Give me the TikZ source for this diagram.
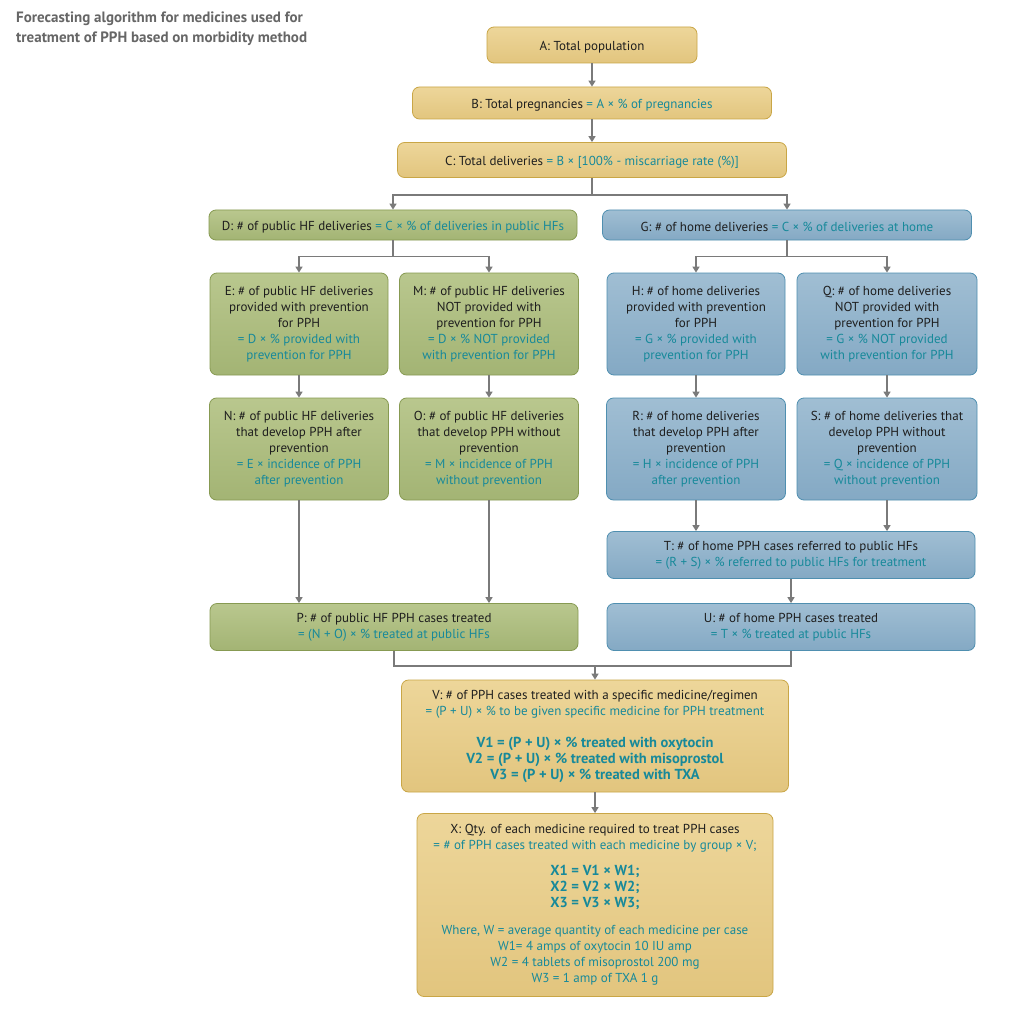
\documentclass[tikz,border=0pt]{standalone}
\usepackage{fontspec}
\setmainfont{PT Sans}
\usetikzlibrary{arrows.meta,calc}
\definecolor{tanF}{HTML}{E2C57E}
\definecolor{tanT}{HTML}{EDD69A}
\definecolor{tanD}{HTML}{C9A646}
\definecolor{grnF}{HTML}{A3B474}
\definecolor{grnT}{HTML}{B9C78E}
\definecolor{grnD}{HTML}{879A52}
\definecolor{bluF}{HTML}{84A9C4}
\definecolor{bluT}{HTML}{A0BED3}
\definecolor{bluD}{HTML}{4F8FB0}
\definecolor{teal}{HTML}{17899A}
\definecolor{txt}{HTML}{1E1E1E}
\definecolor{arr}{HTML}{7A7A7A}
\newcommand{\eq}[1]{\textcolor{teal}{#1}}
\newcommand{\beq}[1]{\textcolor{teal}{\fontsize{14.5}{16}\selectfont\bfseries #1}}
\tikzset{
  box/.style={rounded corners=7pt, line width=0.8pt, align=center, inner sep=2pt,
    font=\fontsize{13}{16}\selectfont, text=txt, anchor=center,
    execute at begin node={\rule{0pt}{13.5pt}}},
  tall/.style={execute at begin node={\rule{0pt}{19pt}}},
  tanbox/.style={box, draw=tanD, top color=tanT, bottom color=tanF},
  grnbox/.style={box, draw=grnD, top color=grnT, bottom color=grnF},
  blubox/.style={box, draw=bluD, top color=bluT, bottom color=bluF},
  conn/.style={draw=arr, line width=1.6pt},
  arrow/.style={conn, -{Triangle[width=7pt,length=6pt]}},
}
\begin{document}
\begin{tikzpicture}[x=1pt,y=-1pt]
\useasboundingbox (0,0) rectangle (1024,1024);
\fill[white] (0,0) rectangle (1024,1024);
\node[anchor=north west, align=left, text=black!60, font=\fontsize{15}{20}\selectfont\bfseries, inner sep=0pt] (title) at (16,12)
  {Forecasting algorithm for medicines used for\\treatment of PPH based on morbidity method};

\node[tanbox, minimum width=210pt, minimum height=36pt] (A) at (592,45) {A: Total population};
\node[tanbox, minimum width=359pt, minimum height=32pt] (B) at (592,103) {B: Total pregnancies \eq{= A × \% of pregnancies}};
\node[tanbox, minimum width=389pt, minimum height=35pt] (C) at (592,160) {C: Total deliveries \eq{= B × [100\% - miscarriage rate (\%)]}};
\node[grnbox, minimum width=368pt, minimum height=30pt] (D) at (393,225) {D: \# of public HF deliveries \eq{= C × \% of deliveries in public HFs}};
\node[blubox, minimum width=369pt, minimum height=30pt] (G) at (787,225) {G: \# of home deliveries \eq{= C × \% of deliveries at home}};

\node[grnbox, tall, minimum width=178pt, minimum height=102pt] (E) at (299,324) {E: \# of public HF deliveries\\provided with prevention\\for PPH\\\eq{= D × \% provided with}\\\eq{prevention for PPH}};
\node[grnbox, tall, minimum width=179pt, minimum height=102pt] (M) at (489,324) {M: \# of public HF deliveries\\NOT provided with\\prevention for PPH\\\eq{= D × \% NOT provided}\\\eq{with prevention for PPH}};
\node[blubox, tall, minimum width=178pt, minimum height=102pt] (H) at (696,324) {H: \# of home deliveries\\provided with prevention\\for PPH\\\eq{= G × \% provided with}\\\eq{prevention for PPH}};
\node[blubox, tall, minimum width=180pt, minimum height=102pt] (Q) at (887,324) {Q: \# of home deliveries\\NOT provided with\\prevention for PPH\\\eq{= G × \% NOT provided}\\\eq{with prevention for PPH}};

\node[grnbox, tall, minimum width=179pt, minimum height=102pt] (N) at (299,449) {N: \# of public HF deliveries\\that develop PPH after\\prevention\\\eq{= E × incidence of PPH}\\\eq{after prevention}};
\node[grnbox, tall, minimum width=179pt, minimum height=102pt] (O) at (489,449) {O: \# of public HF deliveries\\that develop PPH without\\prevention\\\eq{= M × incidence of PPH}\\\eq{without prevention}};
\node[blubox, tall, minimum width=179pt, minimum height=102pt] (R) at (696,449) {R: \# of home deliveries\\that develop PPH after\\prevention\\\eq{= H × incidence of PPH}\\\eq{after prevention}};
\node[blubox, tall, minimum width=180pt, minimum height=102pt] (S) at (887,449) {S: \# of home deliveries that\\develop PPH without\\prevention\\\eq{= Q × incidence of PPH}\\\eq{without prevention}};

\node[blubox, tall, minimum width=368pt, minimum height=47pt] (T) at (791,555) {T: \# of home PPH cases referred to public HFs\\\eq{= (R + S) × \% referred to public HFs for treatment}};
\node[grnbox, tall, minimum width=368pt, minimum height=47pt] (P) at (394,627) {P: \# of public HF PPH cases treated\\\eq{= (N + O) × \% treated at public HFs}};
\node[blubox, tall, minimum width=368pt, minimum height=47pt] (U) at (791,627) {U: \# of home PPH cases treated\\\eq{= T × \% treated at public HFs}};

\node[tanbox, tall, minimum width=387pt, minimum height=112pt] (V) at (595,736) {V: \# of PPH cases treated with a specific medicine/regimen\\\eq{= (P + U) × \% to be given specific medicine for PPH treatment}\\[16pt]
\beq{V1 = (P + U) × \% treated with oxytocin}\\\beq{V2 = (P + U) × \% treated with misoprostol}\\\beq{V3 = (P + U) × \% treated with TXA}};

\node[tanbox, tall, minimum width=356pt, minimum height=183pt] (X) at (595,905) {X: Qty. of each medicine required to treat PPH cases\\\eq{= \# of PPH cases treated with each medicine by group × V;}\\[10pt]
\beq{X1 = V1 × W1;}\\\beq{X2 = V2 × W2;}\\\beq{X3 = V3 × W3;}\\[11pt]
\eq{Where, W = average quantity of each medicine per case}\\\eq{W1= 4 amps of oxytocin 10 IU amp}\\\eq{W2 = 4 tablets of misoprostol 200 mg}\\\eq{W3 = 1 amp of TXA 1 g}};

% connectors
\draw[arrow] (A.south) -- (B.north);
\draw[arrow] (B.south) -- (C.north);
\coordinate (c1) at ($(C.south)+(0,17)$);
\draw[conn] (C.south) -- (c1);
\draw[arrow] (c1) -| (D.north);
\draw[arrow] (c1) -| (G.north);
\coordinate (d1) at ($(D.south)+(0,16)$);
\draw[conn] (D.south) -- (d1);
\draw[arrow] (d1) -| (E.north);
\draw[arrow] (d1) -| (M.north);
\coordinate (g1) at ($(G.south)+(0,16)$);
\draw[conn] (G.south) -- (g1);
\draw[arrow] (g1) -| (H.north);
\draw[arrow] (g1) -| (Q.north);
\draw[arrow] (E.south) -- (N.north);
\draw[arrow] (M.south) -- (O.north);
\draw[arrow] (H.south) -- (R.north);
\draw[arrow] (Q.south) -- (S.north);
\draw[arrow] (N.south) -- (N.south |- P.north);
\draw[arrow] (O.south) -- (O.south |- P.north);
\draw[arrow] (R.south) -- (R.south |- T.north);
\draw[arrow] (S.south) -- (S.south |- T.north);
\draw[arrow] (T.south) -- (U.north);
\coordinate (p1) at ($(P.south)+(0,15)$);
\draw[conn] (P.south) -- (p1) -| (U.south);
\draw[arrow] (p1 -| V.north) -- (V.north);
\draw[arrow] (V.south) -- (X.north);
\end{tikzpicture}
\end{document}
